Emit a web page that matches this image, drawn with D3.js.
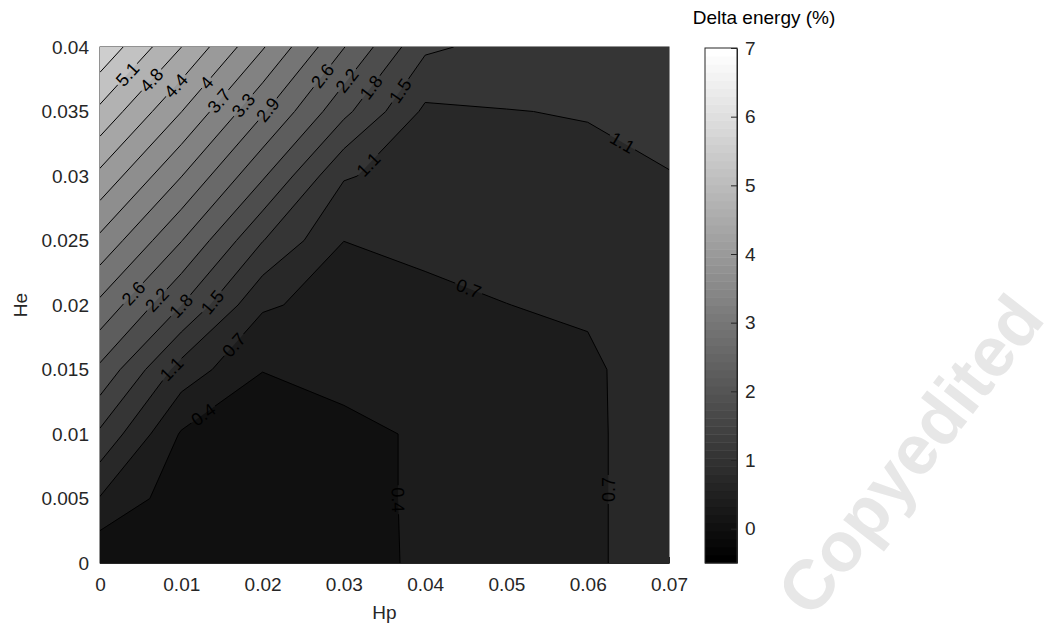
<!DOCTYPE html>
<html>
<head>
<meta charset="utf-8">
<script src="https://cdn.jsdelivr.net/npm/d3@7"></script>
<style>
  body { margin: 0; background: #fff; }
  svg text { font-family: "Liberation Sans", Arial, sans-serif; }
</style>
</head>
<body>
<div class="diagram"></div>
<script>
// grid of the sweep
const hp = [0, 0.01, 0.02, 0.03, 0.04, 0.05, 0.06, 0.07];
const he = [0, 0.005, 0.01, 0.015, 0.02, 0.025, 0.03, 0.035, 0.04];
// delta energy (%), one row per He value, columns follow hp
const energy = [
  [0.02, 0.08, 0.10, 0.27, 0.41, 0.55, 0.65, 0.98],
  [0.71, 0.15, 0.06, 0.28, 0.41, 0.55, 0.65, 0.98],
  [1.40, 0.33, 0.05, 0.30, 0.40, 0.56, 0.65, 0.98],
  [2.125, 0.95, 0.38, 0.45, 0.50, 0.62, 0.66, 0.97],
  [2.845, 1.84, 0.78, 0.60, 0.60, 0.73, 0.785, 1.00],
  [3.58, 2.58, 1.48, 0.735, 0.856, 0.85, 0.90, 1.04],
  [4.31, 3.31, 2.25, 1.13, 0.95, 0.98, 1.00, 1.08],
  [5.05, 4.04, 2.98, 1.93, 1.03, 1.09, 1.12, 1.28],
  [5.79, 4.77, 3.70, 2.58, 1.53, 1.35, 1.30, 1.35]
];
const levels = [0, 0.3667, 0.7333, 1.1, 1.4667, 1.8333, 2.2, 2.5667, 2.9333,
                3.3, 3.6667, 4.0333, 4.4, 4.7667, 5.1333, 5.5];
// contour labels: level, Hp, He, turned upside (1) or not (0)
const labelSpots = [
  [5.1333, 0.0037, 0.0377, 0],
  [4.7667, 0.0064, 0.0374, 0],
  [4.4, 0.0095, 0.0369, 0],
  [4.0333, 0.0133, 0.0371, 0],
  [3.6667, 0.0145, 0.0359, 0],
  [3.3, 0.0178, 0.0354, 0],
  [2.9333, 0.0209, 0.0350, 0],
  [2.5667, 0.0277, 0.0376, 0],
  [2.2, 0.0308, 0.0372, 0],
  [1.8333, 0.0335, 0.0368, 0],
  [1.4667, 0.0365, 0.0368, 0],
  [1.1, 0.0335, 0.0306, 0],
  [1.1, 0.0640, 0.0323, 0],
  [2.5667, 0.0041, 0.0209, 0],
  [2.2, 0.0070, 0.0204, 0],
  [1.8333, 0.0102, 0.0198, 0],
  [1.4667, 0.0135, 0.0204, 0],
  [1.1, 0.0092, 0.0148, 0],
  [0.7333, 0.0172, 0.0165, 0],
  [0.3667, 0.0126, 0.0116, 0],
  [0.7333, 0.0453, 0.0212, 0],
  [0.3667, 0.0369, 0.0049, 0],
  [0.7333, 0.0625, 0.0057, 1]
];
const xTicks = [0, 0.01, 0.02, 0.03, 0.04, 0.05, 0.06, 0.07];
const yTicks = [0, 0.005, 0.01, 0.015, 0.02, 0.025, 0.03, 0.035, 0.04];
const cTicks = [0, 1, 2, 3, 4, 5, 6, 7];
const cMin = -0.5, cMax = 7;

const w = 1062, h = 634,
      plot = {left: 100, right: 669, top: 47, bottom: 563},
      svg = d3.select(".diagram")
      .append("svg")
      .attr("width", w)
      .attr("height", h);

svg.append("rect").attr("width", w).attr("height", h).attr("fill", "#fff");

// watermark
svg.append("text")
  .attr("transform", "translate(812,620) rotate(-52)")
  .attr("font-size", 70)
  .attr("font-weight", "bold")
  .attr("fill", "#e7e7e7")
  .text("Copyedited");

const xScale = d3.scaleLinear().domain([0, 0.07]).range([plot.left, plot.right]);
const yScale = d3.scaleLinear().domain([0, 0.04]).range([plot.bottom, plot.top]);
const cScale = d3.scaleLinear().domain([cMin, cMax]).range([563, 48]);

// matlab gray colormap, 64 entries
function gray(v) {
  let k = Math.floor((v - cMin) / (cMax - cMin) * 64);
  k = Math.max(0, Math.min(63, k));
  const c = Math.round(k / 63 * 255);
  return d3.rgb(c, c, c).formatHex();
}

// axes go under the filled contours, like matlab's bottom layer
const xAxis = d3.axisBottom(xScale).tickValues(xTicks)
  .tickFormat(d3.format("~g")).tickSizeInner(-6).tickSizeOuter(0).tickPadding(15);
const yAxis = d3.axisLeft(yScale).tickValues(yTicks)
  .tickFormat(d3.format("~g")).tickSizeInner(-6).tickSizeOuter(0).tickPadding(11);
svg.append("g")
  .attr("transform", "translate(0," + plot.bottom + ")")
  .call(xAxis)
  .attr("id", "x-axis");
svg.append("g")
  .attr("transform", "translate(" + plot.left + ",0)")
  .call(yAxis)
  .attr("id", "y-axis");
svg.append("rect")
  .attr("x", plot.left).attr("y", plot.top)
  .attr("width", plot.right - plot.left).attr("height", plot.bottom - plot.top)
  .attr("fill", "none").attr("stroke", "#262626").attr("stroke-width", 1);
svg.selectAll(".domain, .tick line").attr("stroke", "#262626");
svg.selectAll("#x-axis text, #y-axis text")
  .attr("font-size", 19).attr("fill", "#262626");
svg.selectAll("#x-axis, #y-axis").attr("font-family", null);

// contours
const contours = d3.contours()
  .size([hp.length, he.length])
  .thresholds(levels)(energy.flat());
const gx = d3.scaleLinear().domain([0.5, hp.length - 0.5]).range([xScale(hp[0]), xScale(hp[hp.length - 1])]);
const gy = d3.scaleLinear().domain([0.5, he.length - 0.5]).range([yScale(he[0]), yScale(he[he.length - 1])]);
const path = d3.geoPath(d3.geoTransform({
  point: function(x, y) { this.stream.point(gx(x), gy(y)); }
}));

const defs = svg.append("defs");
defs.append("clipPath").attr("id", "plotclip")
  .append("rect")
  .attr("x", plot.left).attr("y", plot.top)
  .attr("width", plot.right - plot.left).attr("height", plot.bottom - plot.top);

const field = svg.append("g").attr("clip-path", "url(#plotclip)");
field.selectAll("path.band")
  .data(contours)
  .enter()
  .append("path")
  .attr("class", "band")
  .attr("d", path)
  .attr("fill", (d) => gray(d.value))
  .attr("stroke", "none");

// find label spot on a contour line
function spotOn(level, px, py) {
  const c = contours.find((d) => Math.abs(d.value - level) < 1e-6);
  let best = null;
  const inside = (x, y) => x >= plot.left - 0.5 && x <= plot.right + 0.5 && y >= plot.top - 0.5 && y <= plot.bottom + 0.5;
  c.coordinates.forEach((poly) => poly.forEach((ring) => {
    for (let k = 1; k < ring.length; k++) {
      const ax = gx(ring[k - 1][0]), ay = gy(ring[k - 1][1]);
      const bx = gx(ring[k][0]), by = gy(ring[k][1]);
      if (!inside(ax, ay) || !inside(bx, by)) continue;
      if (ax === bx && (ax <= plot.left + 0.5 || ax >= plot.right - 0.5)) continue;
      if (ay === by && (ay <= plot.top + 0.5 || ay >= plot.bottom - 0.5)) continue;
      const dx = bx - ax, dy = by - ay, len2 = dx * dx + dy * dy;
      if (len2 === 0) continue;
      let t = ((px - ax) * dx + (py - ay) * dy) / len2;
      t = Math.max(0, Math.min(1, t));
      const qx = ax + t * dx, qy = ay + t * dy;
      const dist = Math.hypot(px - qx, py - qy);
      if (!best || dist < best.dist) {
        let a = Math.atan2(dy, dx) * 180 / Math.PI;
        if (a > 90) a -= 180;
        if (a <= -90) a += 180;
        best = {x: qx, y: qy, a: a, dist: dist};
      }
    }
  }));
  return best;
}

const fmt = d3.format(".1~f");
const spots = labelSpots.map((d) => {
  const s = spotOn(d[0], xScale(d[1]), yScale(d[2]));
  return {x: s.x, y: s.y, a: d[3] ? s.a - 180 : s.a, text: fmt(d[0])};
});

const labelG = svg.append("g");
const texts = labelG.selectAll("text")
  .data(spots)
  .enter()
  .append("text")
  .attr("transform", (d) => "translate(" + d.x + "," + d.y + ") rotate(" + d.a + ")")
  .attr("text-anchor", "middle")
  .attr("dy", "0.35em")
  .attr("font-size", 18)
  .attr("fill", "#000")
  .text((d) => d.text);
texts.each(function(d) { d.w = this.getComputedTextLength(); });

const mask = defs.append("mask").attr("id", "gaps")
  .attr("maskUnits", "userSpaceOnUse")
  .attr("x", 0).attr("y", 0).attr("width", w).attr("height", h);
mask.append("rect").attr("width", w).attr("height", h).attr("fill", "#fff");
mask.selectAll("rect.gap")
  .data(spots)
  .enter()
  .append("rect")
  .attr("class", "gap")
  .attr("x", (d) => -d.w / 2 - 2)
  .attr("y", -8)
  .attr("width", (d) => d.w + 4)
  .attr("height", 16)
  .attr("transform", (d) => "translate(" + d.x + "," + d.y + ") rotate(" + d.a + ")")
  .attr("fill", "#000");

const lines = svg.append("g").attr("clip-path", "url(#plotclip)")
  .append("g").attr("mask", "url(#gaps)");
lines.selectAll("path")
  .data(contours.filter((d) => d.value > 0))
  .enter()
  .append("path")
  .attr("d", path)
  .attr("fill", "none")
  .attr("stroke", "#000")
  .attr("stroke-width", 1)
  .attr("stroke-linejoin", "round");
labelG.raise();

// axis titles
svg.append("text")
  .attr("x", (plot.left + plot.right) / 2).attr("y", 619)
  .attr("text-anchor", "middle").attr("font-size", 19).attr("fill", "#262626")
  .text("Hp");
svg.append("text")
  .attr("transform", "translate(27," + (plot.top + plot.bottom) / 2 + ") rotate(-90)")
  .attr("text-anchor", "middle").attr("font-size", 19).attr("fill", "#262626")
  .text("He");

// colorbar
const cb = {left: 705, right: 737};
const steps = d3.range(64);
svg.append("g").selectAll("rect")
  .data(steps)
  .enter()
  .append("rect")
  .attr("x", cb.left)
  .attr("width", cb.right - cb.left)
  .attr("y", (k) => cScale(cMin + (k + 1) / 64 * (cMax - cMin)))
  .attr("height", (k) => cScale(cMin + k / 64 * (cMax - cMin)) - cScale(cMin + (k + 1) / 64 * (cMax - cMin)) + 0.5)
  .attr("fill", (k) => { const c = Math.round(k / 63 * 255); return d3.rgb(c, c, c).formatHex(); });
svg.append("rect")
  .attr("x", cb.left).attr("y", cScale(cMax))
  .attr("width", cb.right - cb.left).attr("height", cScale(cMin) - cScale(cMax))
  .attr("fill", "none").attr("stroke", "#262626").attr("stroke-width", 1);
const cAxis = d3.axisRight(cScale).tickValues(cTicks)
  .tickSizeInner(-6).tickSizeOuter(0).tickPadding(8);
svg.append("g")
  .attr("transform", "translate(" + cb.right + ",0)")
  .call(cAxis)
  .attr("font-family", null)
  .call((g) => g.selectAll("text").attr("font-size", 19).attr("fill", "#262626"))
  .call((g) => g.selectAll("line, .domain").attr("stroke", "#262626"));
svg.append("text")
  .attr("x", 764).attr("y", 24)
  .attr("text-anchor", "middle").attr("font-size", 19).attr("fill", "#000")
  .text("Delta energy (%)");
</script>
</body>
</html>
